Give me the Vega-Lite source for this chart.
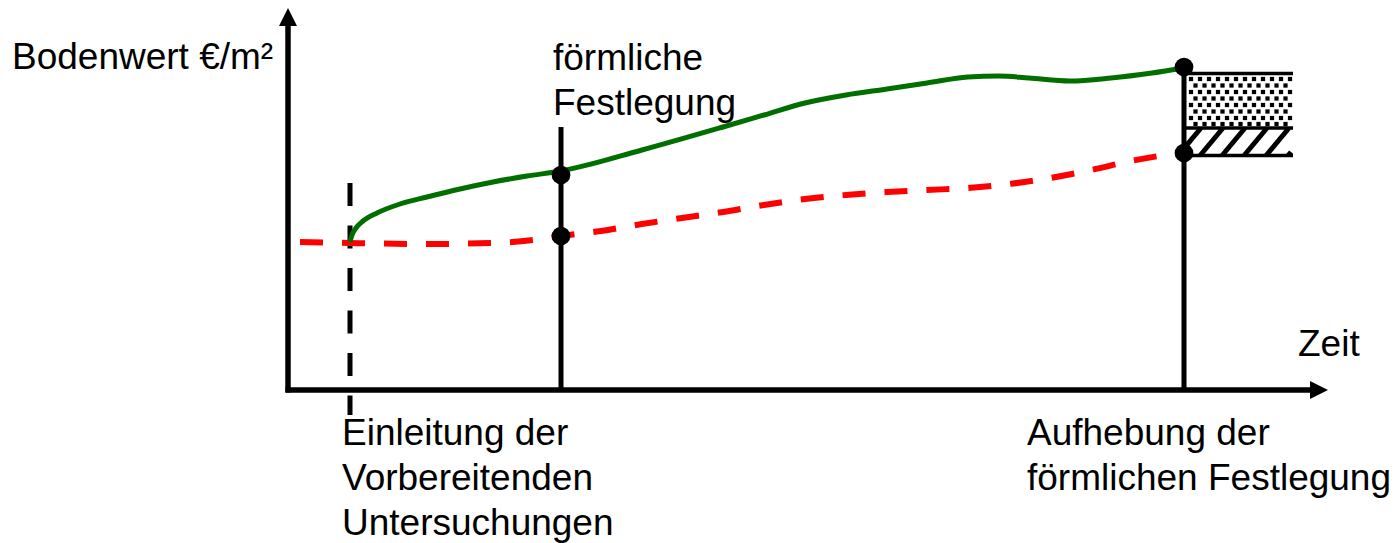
{
  "$schema": "https://vega.github.io/schema/vega-lite/v6.json",
  "width": 1394,
  "height": 543,
  "autosize": {"type": "fit", "contains": "padding"},
  "padding": 0,
  "background": "white",
  "config": {"view": {"stroke": null}},
  "datasets": {
    "gruen": [
      {"zeit": 62, "wert": 148}, {"zeit": 64, "wert": 155}, {"zeit": 68, "wert": 162},
      {"zeit": 75, "wert": 169}, {"zeit": 89, "wert": 177}, {"zeit": 112, "wert": 186},
      {"zeit": 139, "wert": 193}, {"zeit": 172, "wert": 201}, {"zeit": 205, "wert": 208},
      {"zeit": 239, "wert": 214}, {"zeit": 273, "wert": 219}, {"zeit": 354, "wert": 240},
      {"zeit": 435, "wert": 263}, {"zeit": 476, "wert": 275}, {"zeit": 517, "wert": 287},
      {"zeit": 558, "wert": 295}, {"zeit": 599, "wert": 301}, {"zeit": 639, "wert": 307},
      {"zeit": 680, "wert": 313}, {"zeit": 711, "wert": 314}, {"zeit": 741, "wert": 312},
      {"zeit": 782, "wert": 309}, {"zeit": 823, "wert": 312}, {"zeit": 864, "wert": 317},
      {"zeit": 896, "wert": 322}
    ],
    "rot": [
      {"zeit": 12, "wert": 148}, {"zeit": 62, "wert": 147}, {"zeit": 139, "wert": 146},
      {"zeit": 205, "wert": 147}, {"zeit": 245, "wert": 150}, {"zeit": 273, "wert": 154},
      {"zeit": 313, "wert": 159}, {"zeit": 354, "wert": 166}, {"zeit": 394, "wert": 172},
      {"zeit": 435, "wert": 178}, {"zeit": 476, "wert": 185}, {"zeit": 517, "wert": 191},
      {"zeit": 558, "wert": 195}, {"zeit": 599, "wert": 198}, {"zeit": 639, "wert": 200},
      {"zeit": 680, "wert": 202}, {"zeit": 721, "wert": 206}, {"zeit": 762, "wert": 212},
      {"zeit": 803, "wert": 220}, {"zeit": 843, "wert": 229}, {"zeit": 896, "wert": 238}
    ],
    "segmente": [
      {"art": "achse", "zeit": 0, "wert": -2.5, "zeit2": 0, "wert2": 370},
      {"art": "achse", "zeit": -2.5, "wert": 0, "zeit2": 1026, "wert2": 0},
      {"art": "gestrichelt", "zeit": 62, "wert": 207, "zeit2": 62, "wert2": -25},
      {"art": "marke", "zeit": 273, "wert": 263, "zeit2": 273, "wert2": 0},
      {"art": "marke", "zeit": 896, "wert": 323, "zeit2": 896, "wert2": 0},
      {"art": "rand", "zeit": 896, "wert": 316.5, "zeit2": 1005, "wert2": 316.5},
      {"art": "rand", "zeit": 896, "wert": 262, "zeit2": 1005, "wert2": 262},
      {"art": "rand", "zeit": 896, "wert": 234.5, "zeit2": 1005, "wert2": 234.5},
      {"art": "schraffur", "zeit": 896, "wert": 241.6, "zeit2": 913, "wert2": 262},
      {"art": "schraffur", "zeit": 912.1, "wert": 234.5, "zeit2": 935, "wert2": 262},
      {"art": "schraffur", "zeit": 934.1, "wert": 234.5, "zeit2": 957, "wert2": 262},
      {"art": "schraffur", "zeit": 956.1, "wert": 234.5, "zeit2": 979, "wert2": 262},
      {"art": "schraffur", "zeit": 978.1, "wert": 234.5, "zeit2": 1001, "wert2": 262},
      {"art": "schraffur", "zeit": 1000.1, "wert": 234.5, "zeit2": 1003, "wert2": 238}
    ],
    "raster": [
      {"wert": 311, "zeit": [903, 912, 921, 930, 939, 948, 957, 966, 975, 984, 993, 1002]},
      {"wert": 304.5, "zeit": [907.5, 916.5, 925.5, 934.5, 943.5, 952.5, 961.5, 970.5, 979.5, 988.5, 997.5]},
      {"wert": 298, "zeit": [903, 912, 921, 930, 939, 948, 957, 966, 975, 984, 993, 1002]},
      {"wert": 291.5, "zeit": [907.5, 916.5, 925.5, 934.5, 943.5, 952.5, 961.5, 970.5, 979.5, 988.5, 997.5]},
      {"wert": 285, "zeit": [903, 912, 921, 930, 939, 948, 957, 966, 975, 984, 993, 1002]},
      {"wert": 278.5, "zeit": [907.5, 916.5, 925.5, 934.5, 943.5, 952.5, 961.5, 970.5, 979.5, 988.5, 997.5]},
      {"wert": 272, "zeit": [903, 912, 921, 930, 939, 948, 957, 966, 975, 984, 993, 1002]},
      {"wert": 266, "zeit": [907.5, 916.5, 925.5, 934.5, 943.5, 952.5, 961.5, 970.5, 979.5, 988.5, 997.5]}
    ],
    "punkte": [
      {"zeit": 273, "wert": 215},
      {"zeit": 273, "wert": 154},
      {"zeit": 896, "wert": 323},
      {"zeit": 896, "wert": 237}
    ],
    "pfeile": [
      {"richtung": "oben", "zeit": 0, "wert": 373},
      {"richtung": "rechts", "zeit": 1031, "wert": 0}
    ],
    "texte": [
      {"zeit": -276, "wert": 321, "label": ["Bodenwert €/m²"]},
      {"zeit": 265, "wert": 320, "label": ["förmliche", "Festlegung"]},
      {"zeit": 1010, "wert": 34, "label": ["Zeit"]},
      {"zeit": 54, "wert": -55, "label": ["Einleitung der", "Vorbereitenden", "Untersuchungen"]},
      {"zeit": 739, "wert": -55, "label": ["Aufhebung der", "förmlichen Festlegung"]}
    ]
  },
  "encoding": {
    "x": {"field": "zeit", "type": "quantitative", "scale": {"domain": [-288, 1106], "nice": false, "zero": false}, "axis": null},
    "y": {"field": "wert", "type": "quantitative", "scale": {"domain": [-153, 390], "nice": false, "zero": false}, "axis": null}
  },
  "layer": [
    {
      "data": {"name": "segmente"},
      "transform": [{"filter": "datum.art === 'schraffur'"}],
      "mark": {"type": "rule", "color": "black", "strokeWidth": 5},
      "encoding": {"x2": {"field": "zeit2"}, "y2": {"field": "wert2"}}
    },
    {
      "data": {"name": "raster"},
      "transform": [{"flatten": ["zeit"]}],
      "mark": {"type": "point", "shape": "square", "filled": true, "color": "black", "size": 18, "opacity": 1}
    },
    {
      "data": {"name": "segmente"},
      "transform": [{"filter": "datum.art === 'rand'"}],
      "mark": {"type": "rule", "color": "black", "strokeWidth": 3.5},
      "encoding": {"x2": {"field": "zeit2"}, "y2": {"field": "wert2"}}
    },
    {
      "data": {"name": "segmente"},
      "transform": [{"filter": "datum.art === 'marke'"}],
      "mark": {"type": "rule", "color": "black", "strokeWidth": 5},
      "encoding": {"x2": {"field": "zeit2"}, "y2": {"field": "wert2"}}
    },
    {
      "data": {"name": "segmente"},
      "transform": [{"filter": "datum.art === 'gestrichelt'"}],
      "mark": {"type": "rule", "color": "black", "strokeWidth": 5, "strokeDash": [23, 19.5]},
      "encoding": {"x2": {"field": "zeit2"}, "y2": {"field": "wert2"}}
    },
    {
      "data": {"name": "segmente"},
      "transform": [{"filter": "datum.art === 'achse'"}],
      "mark": {"type": "rule", "color": "black", "strokeWidth": 5.5},
      "encoding": {"x2": {"field": "zeit2"}, "y2": {"field": "wert2"}}
    },
    {
      "data": {"name": "rot"},
      "mark": {"type": "line", "color": "#FF0000", "strokeWidth": 6, "strokeDash": [23, 19], "interpolate": "monotone"}
    },
    {
      "data": {"name": "gruen"},
      "mark": {"type": "line", "color": "#006F00", "strokeWidth": 5, "interpolate": "monotone"}
    },
    {
      "data": {"name": "punkte"},
      "mark": {"type": "circle", "color": "black", "size": 350, "opacity": 1}
    },
    {
      "data": {"name": "pfeile"},
      "transform": [{"filter": "datum.richtung === 'oben'"}],
      "mark": {"type": "point", "shape": "M0,-1L-1,1L1,1Z", "filled": true, "color": "black", "size": 324, "opacity": 1}
    },
    {
      "data": {"name": "pfeile"},
      "transform": [{"filter": "datum.richtung === 'rechts'"}],
      "mark": {"type": "point", "shape": "M1,0L-1,-1L-1,1Z", "filled": true, "color": "black", "size": 324, "opacity": 1}
    },
    {
      "data": {"name": "texte"},
      "mark": {"type": "text", "align": "left", "baseline": "alphabetic", "font": "Liberation Sans", "fontSize": 37, "lineHeight": 45, "color": "black"},
      "encoding": {"text": {"field": "label"}}
    }
  ]
}
